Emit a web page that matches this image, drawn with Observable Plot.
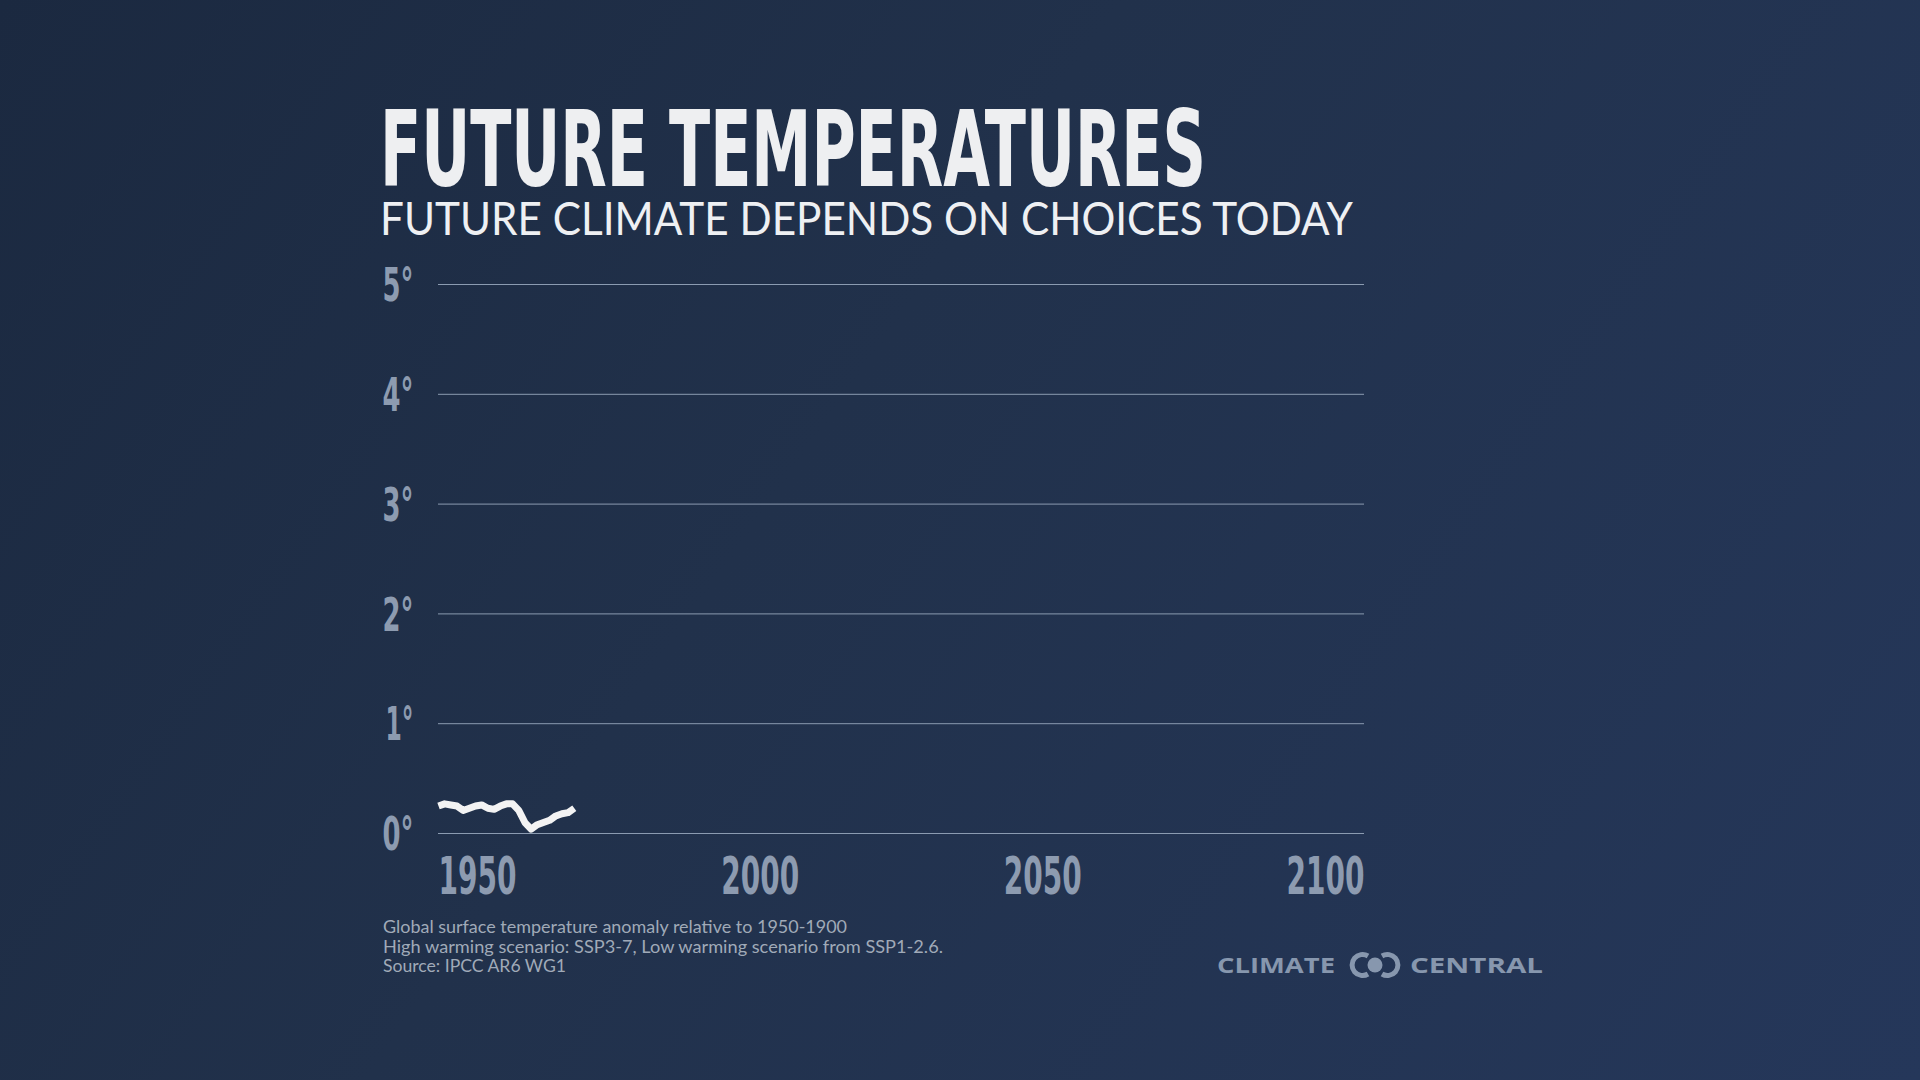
<!DOCTYPE html>
<html>
<head>
<meta charset="utf-8">
<script src="https://cdn.jsdelivr.net/npm/d3@7"></script>
<script src="https://cdn.jsdelivr.net/npm/@observablehq/plot@0.6"></script>
<style>
  html, body { margin: 0; padding: 0; width: 1920px; height: 1080px; overflow: hidden; }
  body { background: linear-gradient(125deg, #1b2940 0%, #21314b 42%, #25375a 100%); position: relative; }
  #deco { position: absolute; left: 0; top: 0; }
  #chart { position: absolute; left: 360px; top: 240px; }
</style>
</head>
<body>
<svg id="deco" width="1920" height="1080" xmlns="http://www.w3.org/2000/svg">
  <text x="380" y="186" font-family="'Liberation Sans Narrow','DejaVu Sans Condensed',sans-serif" font-weight="700" font-size="106" fill="#eeeff1" textLength="826" lengthAdjust="spacingAndGlyphs">FUTURE TEMPERATURES</text>
  <text x="380" y="235" font-family="Lato,'Open Sans',sans-serif" font-weight="400" font-size="46" fill="#eef0f3" textLength="973" lengthAdjust="spacingAndGlyphs">FUTURE CLIMATE DEPENDS ON CHOICES TODAY</text>
  <g font-family="Lato,'Open Sans',sans-serif" font-size="17" fill="#a0aab8">
    <text x="383" y="933" textLength="464" lengthAdjust="spacingAndGlyphs">Global surface temperature anomaly relative to 1950-1900</text>
    <text x="383" y="953" textLength="560" lengthAdjust="spacingAndGlyphs">High warming scenario: SSP3-7, Low warming scenario from SSP1-2.6.</text>
    <text x="383" y="972" textLength="183" lengthAdjust="spacingAndGlyphs">Source: IPCC AR6 WG1</text>
  </g>
  <g fill="#8797ae" font-family="'Open Sans',Lato,sans-serif" font-weight="700" font-size="21">
    <text x="1217" y="973" textLength="118" lengthAdjust="spacingAndGlyphs">CLIMATE</text>
    <text x="1410" y="973" textLength="133" lengthAdjust="spacingAndGlyphs">CENTRAL</text>
    <path d="M 1368 956 A 10.5 10.5 0 1 0 1368 974" fill="none" stroke="#8797ae" stroke-width="5"/>
    <circle cx="1375" cy="965" r="7.5"/>
    <path d="M 1382 956 A 10.5 10.5 0 1 1 1382 974" fill="none" stroke="#8797ae" stroke-width="5"/>
  </g>
</svg>
<div id="chart"></div>
<script>
// ---- data ----
const years = [1950, 1951, 1952, 1953, 1954, 1955, 1956, 1957, 1958, 1959, 1960, 1961,
               1962, 1963, 1964, 1965, 1966, 1967, 1968, 1969, 1970, 1971, 1972];
const anomalies = [0.25, 0.27, 0.26, 0.25, 0.21, 0.23, 0.25, 0.26, 0.23, 0.22, 0.25, 0.27,
                   0.27, 0.21, 0.10, 0.04, 0.08, 0.10, 0.12, 0.16, 0.18, 0.19, 0.23];
const yTicks = [0, 1, 2, 3, 4, 5];
const xTicks = [1950, 2000, 2050, 2100];

const table = years.map((yr, i) => ({ year: yr, anomaly: anomalies[i] }));

const FONT = "'Liberation Sans Narrow','DejaVu Sans Condensed',sans-serif";
const LABEL = "#8d9bb0";
const X0 = 1950, X1 = 2100, labelW = 78;

const chart = Plot.plot({
  width: 1060,
  height: 680,
  marginLeft: 78,
  marginRight: 56,
  marginTop: 44,
  marginBottom: 87,
  style: { background: "transparent", overflow: "visible" },
  x: { domain: [X0, X1], axis: null },
  y: { domain: [0, 5], axis: null },
  marks: [
    Plot.ruleY(yTicks, { stroke: "#8b9bb1", strokeWidth: 1 }),
    Plot.text(yTicks, {
      y: d => d, frameAnchor: "left", dx: -25, dy: 2, textAnchor: "end", lineAnchor: "middle",
      text: d => d + "°", fontSize: 46, fontWeight: 700, fontFamily: FONT, fill: LABEL
    }),
    ...xTicks.map(t => Plot.text([t], {
      x: d => d, frameAnchor: "bottom", dy: 44, lineAnchor: "middle",
      dx: labelW * (0.5 - (t - X0) / (X1 - X0)),
      text: d => String(d), fontSize: 52, fontWeight: 700, fontFamily: FONT, fill: LABEL
    })),
    Plot.line(table, {
      x: "year", y: "anomaly", stroke: "#f3f3f3", strokeWidth: 7,
      strokeLinejoin: "round", strokeLinecap: "butt"
    })
  ]
});
document.getElementById("chart").appendChild(chart);

// condense tick labels to match the narrow display face
chart.querySelectorAll("text").forEach(el => {
  const s = el.textContent;
  el.setAttribute("textLength", s.length === 4 ? 78 : (s.startsWith("1") ? 28 : 31));
  el.setAttribute("lengthAdjust", "spacingAndGlyphs");
});
</script>
</body>
</html>
